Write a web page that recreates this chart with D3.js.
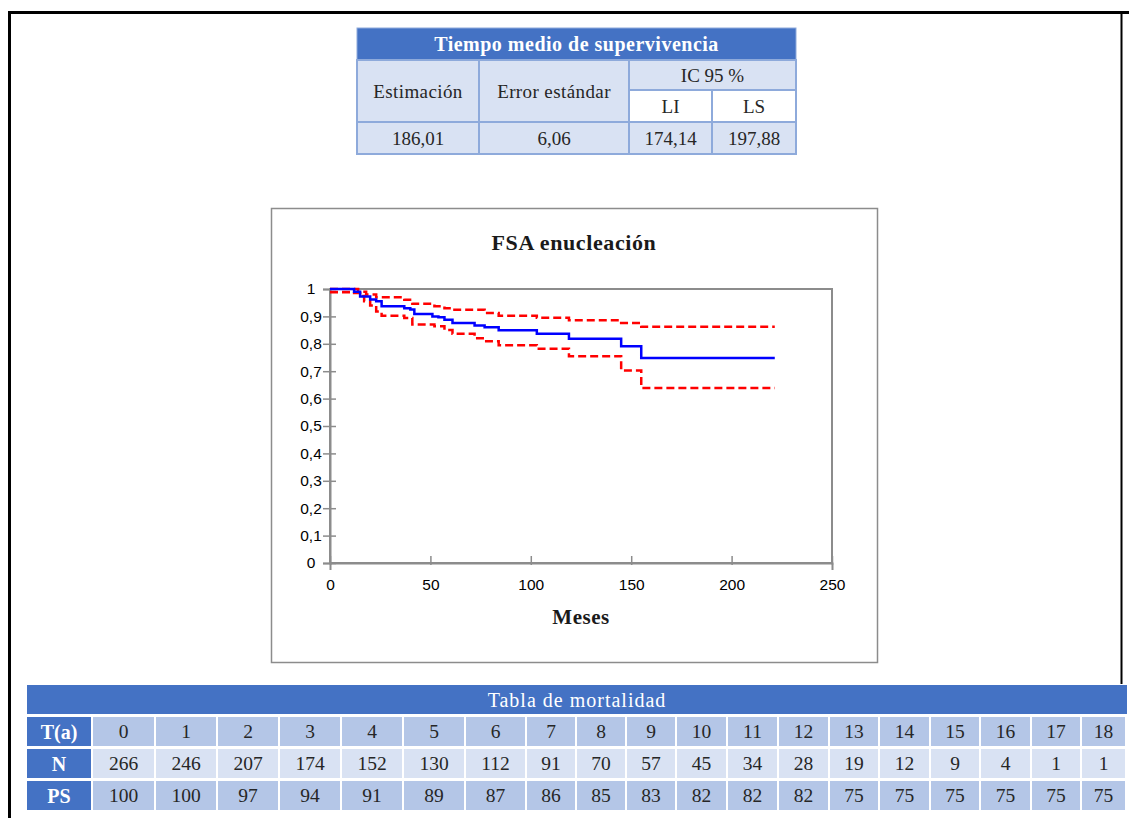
<!DOCTYPE html>
<html>
<head>
<meta charset="utf-8">
<script src="https://cdn.jsdelivr.net/npm/d3@7"></script>
<style>
  body { margin: 0; background: #fff; }
  svg { display: block; }
</style>
</head>
<body>
<svg id="fig"></svg>
<script>
// --- data ---
const estimTitle = "Tiempo medio de supervivencia";
const estimHeads = ["Estimación", "Error estándar", "IC 95 %", "LI", "LS"];
const estimValues = ["186,01", "6,06", "174,14", "197,88"];

const chartTitle = "FSA enucleación";
const xLabel = "Meses";
const xTicks = [0, 50, 100, 150, 200, 250];
const yTicks = [0, 0.1, 0.2, 0.3, 0.4, 0.5, 0.6, 0.7, 0.8, 0.9, 1];

// Kaplan-Meier estimate (months, survival)
const kmTimes  = [0, 12, 15, 20, 23, 25.7, 37, 40, 42, 51, 54, 57, 61, 72, 77, 84, 103, 119, 145, 155, 221.5];
const kmValues = [1, 0.99, 0.973, 0.962, 0.955, 0.937, 0.93, 0.925, 0.909, 0.9, 0.897, 0.888, 0.876, 0.867, 0.86, 0.849, 0.837, 0.818, 0.791, 0.748, 0.748];
// upper and lower 95% bounds
const upTimes  = [0, 14, 18, 23, 37, 41, 52, 57, 61, 77, 84, 103, 119, 145, 155, 221.5];
const upValues = [1, 0.99, 0.98, 0.97, 0.961, 0.946, 0.937, 0.93, 0.924, 0.912, 0.902, 0.895, 0.886, 0.876, 0.862, 0.862];
const loTimes  = [0, 12, 15, 17, 20, 23, 25.7, 37, 41, 52, 57, 61, 72, 77, 84, 103, 119, 145, 155, 221.5];
const loValues = [0.988, 0.985, 0.974, 0.955, 0.94, 0.918, 0.902, 0.894, 0.87, 0.864, 0.85, 0.837, 0.82, 0.809, 0.795, 0.782, 0.755, 0.703, 0.639, 0.639];

const mortTitle = "Tabla de mortalidad";
const rowNames = ["T(a)", "N", "PS"];
const years   = [0, 1, 2, 3, 4, 5, 6, 7, 8, 9, 10, 11, 12, 13, 14, 15, 16, 17, 18];
const atRisk  = [266, 246, 207, 174, 152, 130, 112, 91, 70, 57, 45, 34, 28, 19, 12, 9, 4, 1, 1];
const survPct = [100, 100, 97, 94, 91, 89, 87, 86, 85, 83, 82, 82, 82, 75, 75, 75, 75, 75, 75];

// --- page ---
const W = 1129, H = 818;
const blue = "#4472C4", pale = "#D9E2F3", mid = "#B4C6E7", edge = "#8EAADB";
const serif = "'Liberation Serif', 'Times New Roman', serif";
const sans = "'Liberation Sans', Arial, sans-serif";

const svg = d3.select("#fig").attr("width", W).attr("height", H);

// frame lines
svg.append("path")
  .attr("d", "M9.5,818 V12.5 H1129")
  .attr("fill", "none").attr("stroke", "#000").attr("stroke-width", 3);
svg.append("line")
  .attr("x1", 1121.5).attr("x2", 1121.5).attr("y1", 12).attr("y2", 684)
  .attr("stroke", "#000").attr("stroke-width", 2);

// --- top table ---
const tx = [357, 479, 629, 712, 796];
const ty = [28, 60, 90, 122, 154];
const estimTable = svg.append("g");

function cell(g, x0, y0, x1, y1, fill, txt, opts) {
  opts = opts || {};
  g.append("rect")
    .attr("x", x0).attr("y", y0).attr("width", x1 - x0).attr("height", y1 - y0)
    .attr("fill", fill)
    .attr("stroke", opts.stroke || "none").attr("stroke-width", opts.sw || 0);
  g.append("text")
    .attr("x", (x0 + x1) / 2).attr("y", (y0 + y1) / 2)
    .attr("dy", "0.35em").attr("text-anchor", "middle")
    .style("font-family", serif)
    .style("font-size", (opts.size || 19) + "px")
    .style("font-weight", opts.bold ? "bold" : "normal")
    .style("letter-spacing", (opts.ls || 0) + "px")
    .style("fill", opts.color || "#262626")
    .text(txt);
}

cell(estimTable, tx[0], ty[0], tx[4], ty[1], blue, estimTitle, {bold: true, color: "#fff", size: 20, ls: 0.5, stroke: edge, sw: 1});
cell(estimTable, tx[0], ty[1], tx[1], ty[3], pale, estimHeads[0], {stroke: edge, sw: 2, ls: 0.4});
cell(estimTable, tx[1], ty[1], tx[2], ty[3], pale, estimHeads[1], {stroke: edge, sw: 2, ls: 0.4});
cell(estimTable, tx[2], ty[1], tx[4], ty[2], pale, estimHeads[2], {stroke: edge, sw: 2});
cell(estimTable, tx[2], ty[2], tx[3], ty[3], "#fff", estimHeads[3], {stroke: edge, sw: 2});
cell(estimTable, tx[3], ty[2], tx[4], ty[3], "#fff", estimHeads[4], {stroke: edge, sw: 2});
estimValues.forEach((v, i) => {
  cell(estimTable, tx[i], ty[3], tx[i + 1], ty[4], pale, v, {stroke: edge, sw: 2});
});

// --- survival chart ---
svg.append("rect")
  .attr("x", 271.5).attr("y", 208.5).attr("width", 606).attr("height", 454)
  .attr("fill", "#fff").attr("stroke", "#8c8c8c").attr("stroke-width", 1.5);

svg.append("text")
  .attr("x", 574).attr("y", 250).attr("text-anchor", "middle")
  .style("font-family", serif).style("font-size", "22px").style("font-weight", "bold")
  .style("letter-spacing", "0.6px")
  .style("fill", "#1a1a1a")
  .text(chartTitle);

const px0 = 330, px1 = 832, py0 = 563, py1 = 289;
const x = d3.scaleLinear().domain([0, 250]).range([px0, px1]);
const y = d3.scaleLinear().domain([0, 1]).range([py0, py1]);

const plot = svg.append("g");
plot.append("rect")
  .attr("x", px0).attr("y", py1).attr("width", px1 - px0).attr("height", py0 - py1)
  .attr("fill", "none").attr("stroke", "#8c8c8c").attr("stroke-width", 2);

const fmt = d => d3.format("~g")(d).replace(".", ",");

const yAxis = plot.append("g")
  .attr("transform", "translate(" + px0 + ",0)")
  .call(d3.axisLeft(y).tickValues(yTicks).tickSize(7).tickFormat(fmt));
const xAxis = plot.append("g")
  .attr("transform", "translate(0," + py0 + ")")
  .call(d3.axisBottom(x).tickValues(xTicks).tickSize(7).tickFormat(fmt));

[yAxis, xAxis].forEach(a => {
  a.select(".domain").attr("stroke", "#8c8c8c").attr("stroke-width", 2);
  a.selectAll(".tick line").attr("stroke", "#8c8c8c").attr("stroke-width", 1.5);
  a.selectAll(".tick text")
    .style("font-family", sans).style("font-size", "15.5px").style("fill", "#000");
});
// excel style: ticks cross the axis
yAxis.selectAll(".tick line").attr("x1", 6);
xAxis.selectAll(".tick line").attr("y1", -7).attr("y2", 2);
yAxis.selectAll(".tick text").attr("text-anchor", "middle").attr("x", -19);
xAxis.selectAll(".tick text").attr("y", 16);

svg.append("text")
  .attr("x", 581).attr("y", 624).attr("text-anchor", "middle")
  .style("font-family", serif).style("font-size", "21px").style("font-weight", "bold")
  .style("letter-spacing", "0.5px")
  .style("fill", "#1a1a1a")
  .text(xLabel);

const step = d3.line()
  .x(d => x(d[0])).y(d => y(d[1]))
  .curve(d3.curveStepAfter);

plot.append("path")
  .datum(d3.zip(upTimes, upValues))
  .attr("d", step).attr("fill", "none")
  .attr("stroke", "#ff0000").attr("stroke-width", 2.5).attr("stroke-dasharray", "8,4");
plot.append("path")
  .datum(d3.zip(loTimes, loValues))
  .attr("d", step).attr("fill", "none")
  .attr("stroke", "#ff0000").attr("stroke-width", 2.5).attr("stroke-dasharray", "8,4");
plot.append("path")
  .datum(d3.zip(kmTimes, kmValues))
  .attr("d", step).attr("fill", "none")
  .attr("stroke", "#0000ff").attr("stroke-width", 2.5);

// --- mortality table ---
const colEdges = [27, 93, 156, 218, 280, 342, 404, 466, 527, 577, 627, 677, 728, 779, 830, 880, 931, 981, 1032, 1082, 1127];
const rowEdges = [[717, 746], [749, 778], [781, 810]];
const mort = svg.append("g");

mort.append("rect")
  .attr("x", 27).attr("y", 685).attr("width", 1100).attr("height", 29)
  .attr("fill", blue);
mort.append("text")
  .attr("x", 577).attr("y", 699.5).attr("dy", "0.35em").attr("text-anchor", "middle")
  .style("font-family", serif).style("font-size", "20px").style("letter-spacing", "1px")
  .style("fill", "#fff")
  .text(mortTitle);

const rows = [years, atRisk, survPct];
const rowFill = [mid, pale, mid];
rows.forEach((vals, r) => {
  const [y0, y1] = rowEdges[r];
  cell(mort, colEdges[0], y0, colEdges[1] - 2, y1, blue, rowNames[r], {bold: true, color: "#fff", size: 20});
  vals.forEach((v, i) => {
    cell(mort, colEdges[i + 1], y0, colEdges[i + 2] - 2, y1, rowFill[r], v, {size: 19.5});
  });
});
</script>
</body>
</html>
